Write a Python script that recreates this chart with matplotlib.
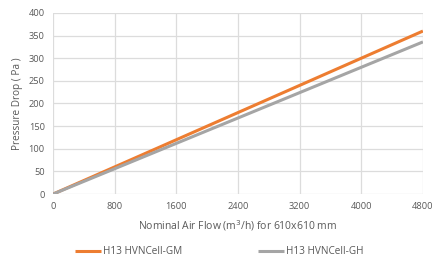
import numpy as np
import matplotlib.pyplot as plt

plt.rcParams['font.family'] = ['Open Sans', 'DejaVu Sans']

flow = [0, 800, 1600, 2400, 3200, 4000, 4800]
gm = [0, 60, 120, 180, 240, 300, 360]
gh = [0, 56, 112, 168, 224, 280, 336]
x_ticks = [0, 800, 1600, 2400, 3200, 4000, 4800]
y_ticks = [0, 50, 100, 150, 200, 250, 300, 350, 400]

txt = '#595959'
grid = '#dcdcdc'

fig = plt.figure(figsize=(4.32, 2.64), dpi=100)
ax = fig.add_axes([0.123, 0.265, 0.856, 0.686])

ax.plot(flow, gm, color='#ed7d31', lw=2.2, label='H13 HVNCell-GM', solid_capstyle='butt')
ax.plot(flow, gh, color='#a5a5a5', lw=2.2, label='H13 HVNCell-GH', solid_capstyle='butt')

ax.set_xlim(0, 4800)
ax.set_ylim(0, 400)
ax.set_xticks(x_ticks)
ax.set_yticks(y_ticks)
ax.grid(True, color=grid, lw=0.9)
ax.set_axisbelow(True)
for s in ax.spines.values():
    s.set_visible(False)
ax.tick_params(length=0, labelsize=6.7, colors=txt, pad=6)

ax.set_xlabel('Nominal Air Flow (m$^3$/h) for 610x610 mm', fontsize=7.5, color=txt, labelpad=5)
ax.set_ylabel('Pressure Drop ( Pa )', fontsize=7.2, color=txt, labelpad=4)

ax.legend(loc='center', bbox_to_anchor=(0.45, -0.32), ncol=2, frameon=False,
          fontsize=7.2, labelcolor=txt, handlelength=2.6, handletextpad=0.2, columnspacing=7.6)

fig.savefig('out.png', dpi=100)
